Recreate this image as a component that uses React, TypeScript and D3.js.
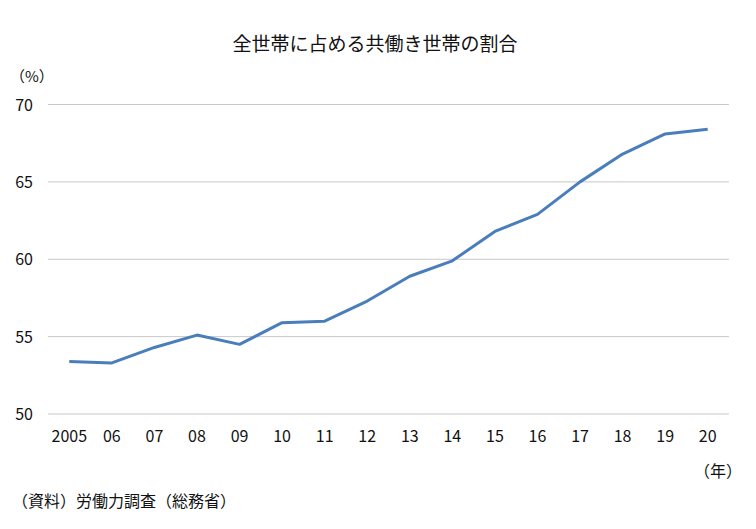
import React from "react";
import * as d3 from "d3";

const title = "全世帯に占める共働き世帯の割合";
const years = ["2005","06","07","08","09","10","11","12","13","14","15","16","17","18","19","20"];
const shares = [53.4, 53.3, 54.3, 55.1, 54.5, 55.9, 56.0, 57.3, 58.9, 59.9, 61.8, 62.9, 65.0, 66.8, 68.1, 68.4];
const yTicks = [50, 55, 60, 65, 70];
const yUnit = "（%）";
const xUnit = "（年）";
const source = "（資料）労働力調査（総務省）";

const W = 756, H = 529;
const left = 48, right = 729, top = 104.5, bottom = 414;
const font = "'Noto Sans CJK JP', sans-serif";

export default function App() {
  const x = d3.scaleBand<string>().domain(years).range([left, right]);
  const y = d3.scaleLinear().domain([50, 70]).range([bottom, top]);
  const line = d3.line<number>()
    .x((_, i) => (x(years[i]) as number) + x.bandwidth() / 2)
    .y(d => y(d));
  return (
    <svg width={W} height={H} style={{ position: "absolute", left: 0, top: 0, background: "#fff" }} fontFamily={font}>
      <rect width={W} height={H} fill="#fff" />
      <text x={375} y={51} textAnchor="middle" fontSize={19} fill="#111">{title}</text>
      <text x={10} y={82} fontSize={15} fill="#111">{yUnit}</text>
      {yTicks.map(t => (
        <g key={t}>
          <line x1={left} x2={right} y1={y(t)} y2={y(t)} stroke="#c8c8c8" strokeWidth={1} />
          <text x={33} y={y(t) + 6} textAnchor="end" fontSize={16} fill="#111">{t}</text>
        </g>
      ))}
      {years.map(yr => (
        <text key={yr} x={(x(yr) as number) + x.bandwidth() / 2} y={442} textAnchor="middle" fontSize={16} fill="#111">{yr}</text>
      ))}
      <path d={line(shares) || ""} fill="none" stroke="#4a7ebb" strokeWidth={3} strokeLinejoin="round" />
      <text x={742} y={477} textAnchor="end" fontSize={16} fill="#111">{xUnit}</text>
      <text x={12} y={507} fontSize={16} fill="#111">{source}</text>
    </svg>
  );
}
